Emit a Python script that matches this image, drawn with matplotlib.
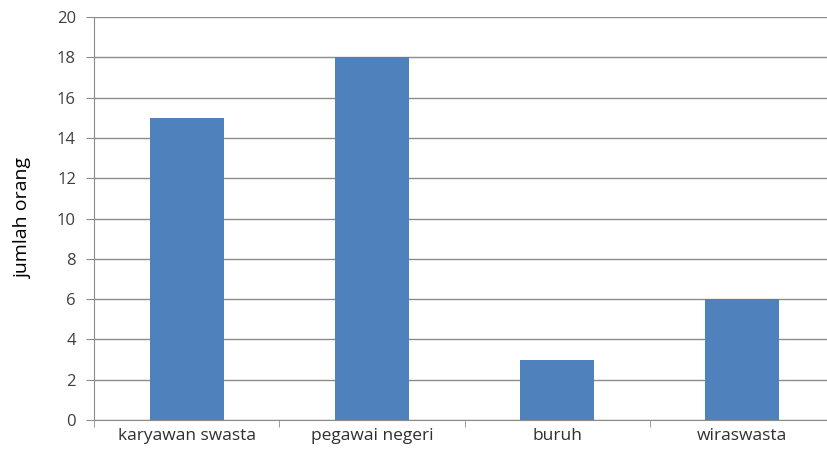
import matplotlib.pyplot as plt
from matplotlib.ticker import FixedLocator, NullFormatter

categories = ["karyawan swasta", "pegawai negeri", "buruh", "wiraswasta"]
values = [15, 18, 3, 6]
y_ticks = [0, 2, 4, 6, 8, 10, 12, 14, 16, 18, 20]

plt.rcParams['font.family'] = ['Open Sans', 'DejaVu Sans']

fig = plt.figure(figsize=(8.28, 4.61), dpi=100)
ax = fig.add_axes([0.1135, 0.0889, 0.895, 0.874])

x = list(range(len(categories)))
ax.bar(x, values, width=0.4, color="#4F81BD", zorder=3)

ax.set_xlim(-0.5, len(categories) - 0.5)
ax.set_ylim(0, 20)
ax.set_yticks(y_ticks)
ax.set_yticklabels([str(v) for v in y_ticks], fontsize=12, color="#404040")
ax.yaxis.grid(True, color="#8c8c8c", linewidth=1, zorder=0)

ax.set_xticks(x)
ax.set_xticklabels(categories, fontsize=12.5, color="#303030")
ax.tick_params(axis="x", which="major", length=0, pad=6)
ax.xaxis.set_minor_locator(FixedLocator([i - 0.5 for i in range(len(categories) + 1)]))
ax.xaxis.set_minor_formatter(NullFormatter())
ax.tick_params(axis="x", which="minor", length=5, color="#8c8c8c")
ax.tick_params(axis="y", length=6, color="#8c8c8c", pad=7)

for side in ("top", "right"):
    ax.spines[side].set_visible(False)
for side in ("left", "bottom"):
    ax.spines[side].set_color("#8c8c8c")

ax.set_ylabel("jumlah orang", fontsize=14, color="#000000", labelpad=18)

fig.savefig("out.png", dpi=100)
